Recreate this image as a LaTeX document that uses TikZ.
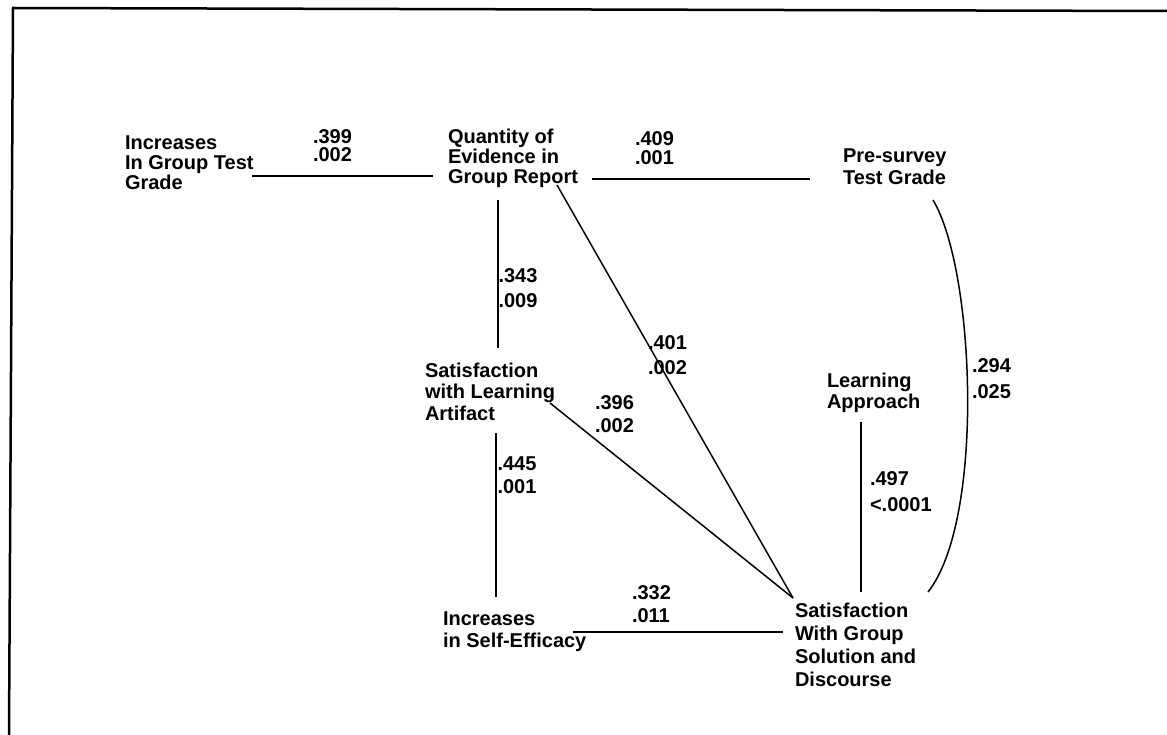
\documentclass[tikz,border=0pt]{standalone}
\usepackage{fontspec}
\setmainfont{Liberation Sans}
\lineskiplimit=-100pt
\begin{document}
\begin{tikzpicture}[x=1pt,y=-1pt,
  lbl/.style={anchor=north west,inner sep=0pt,outer sep=0pt,align=left,
    font={\fontsize{20}{#1}\selectfont\bfseries}},
  conn/.style={line width=1.5pt},
  frameline/.style={line width=2.5pt}]
\lineskiplimit=-100pt
\useasboundingbox (0,0) rectangle (1167,735);
% frame
\coordinate (f1) at (13,8);
\coordinate (f2) at (1167,11);
\coordinate (f3) at (9,735);
\draw[frameline] (f2) -- (f1) -- (f3);

% variable labels
\node[lbl=20]   (igt) at (125,136) {Increases\\In Group Test\\Grade};
\node[lbl=20]   (qty) at (448,129) {Quantity of\\Evidence in\\Group Report};
\node[lbl=22]   (pre) at (843,149) {Pre-survey\\Test Grade};
\node[lbl=21.5] (sla) at (425,363) {Satisfaction\\with Learning\\Artifact};
\node[lbl=21]   (lap) at (827,373) {Learning\\Approach};
\node[lbl=22]   (ise) at (443,612) {Increases\\in Self-Efficacy};
\node[lbl=23]   (sgs) at (795,603) {Satisfaction\\With Group\\Solution and\\Discourse};

% coefficient labels
\node[lbl=18] (c1) at (313,130) {.399\\.002};
\node[lbl=19] (c2) at (635,132) {.409\\.001};
\node[lbl=25] (c3) at (498.5,269) {.343\\.009};
\node[lbl=25] (c4) at (648,336) {.401\\.002};
\node[lbl=22.5] (c5) at (595,396) {.396\\.002};
\node[lbl=23] (c6) at (497.5,457) {.445\\.001};
\node[lbl=25.5] (c7) at (870,472) {.497\\<.0001};
\node[lbl=26] (c8) at (972,359) {.294\\.025};
\node[lbl=22.5] (c9) at (632,586) {.332\\.011};

% connector end points
\coordinate (a1) at (252,176);  \coordinate (a2) at (433,176);
\coordinate (b1) at (592,179);  \coordinate (b2) at (810,179);
\coordinate (d1) at (498,200);  \coordinate (d2) at (498,348);
\coordinate (e1) at (557,185);  \coordinate (e2) at (793,598);
\coordinate (g1) at (550,403);  \coordinate (g2) at (793,598);
\coordinate (h1) at (496,433);  \coordinate (h2) at (496,597);
\coordinate (k1) at (861,422);  \coordinate (k2) at (861,592);
\coordinate (m1) at (933,200);  \coordinate (m2) at (928,592);
\coordinate (n1) at (573,632);  \coordinate (n2) at (783,632);

\draw[conn] (a1) -- (a2);
\draw[conn] (b1) -- (b2);
\draw[conn] (d1) -- (d2);
\draw[conn] (e1) -- (e2);
\draw[conn] (g1) -- (g2);
\draw[conn] (h1) -- (h2);
\draw[conn] (k1) -- (k2);
\draw[conn] (m1) .. controls (975,270) and (985,520) .. (m2);
\draw[conn] (n1) -- (n2);
\end{tikzpicture}
\end{document}
